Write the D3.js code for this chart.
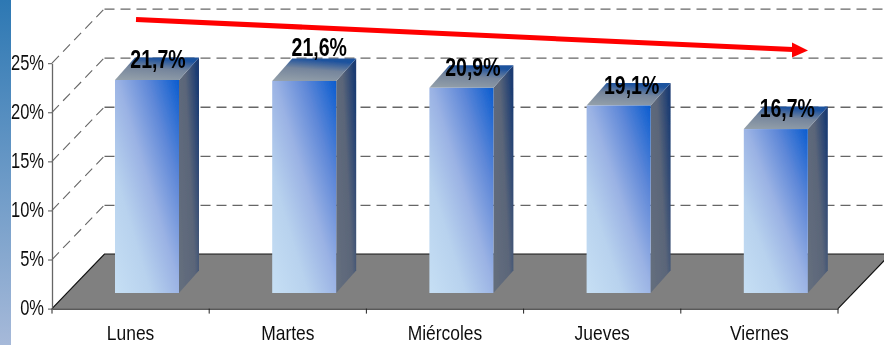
<!DOCTYPE html>
<html><head><meta charset="utf-8">
<script src="https://cdn.jsdelivr.net/npm/d3@7"></script>
<style>html,body{margin:0;padding:0;background:#fff;overflow:hidden}svg{display:block}text{font-family:"Liberation Sans",Arial,sans-serif}</style>
</head><body><svg id="c" width="884" height="345"></svg>
<script>
const days = ["Lunes","Martes","Miércoles","Jueves","Viernes"];
const values = [21.7,21.6,20.9,19.1,16.7];
const valueLabels = ["21,7%","21,6%","20,9%","19,1%","16,7%"];
const yTicks = [0,5,10,15,20,25];

const svg = d3.select("#c");
const defs = svg.append("defs");
function grad(id,x1,y1,x2,y2,stops){
  const g=defs.append("linearGradient").attr("id",id).attr("x1",x1).attr("y1",y1).attr("x2",x2).attr("y2",y2);
  stops.forEach(s=>g.append("stop").attr("offset",s[0]).attr("stop-color",s[1]));
}
grad("strip",0,0,0,1,[[0,"#2d78b3"],[1,"#a6b9d9"]]);
grad("front",0,1,1,0,[[0,"#c6dff4"],[0.28,"#b8d2ee"],[0.52,"#9ab2e4"],[0.75,"#5f88d8"],[1,"#0a5ccf"]]);
grad("side",0,0.8,1,0.2,[[0,"#646e7d"],[0.55,"#5a6579"],[1,"#1a3b72"]]);
grad("top",0,1,0.3,0,[[0,"#96a2ab"],[0.6,"#75859c"],[1,"#1f539e"]]);
const blur = defs.append("filter").attr("id","soft");
blur.append("feGaussianBlur").attr("stdDeviation",0.35);

const x0=52,x1=838,yBase=308.6,yTop=63.2,dx=52.5,dy=-54.6;
const x = d3.scaleBand().domain(days).range([x0,x1]);
const y = d3.scaleLinear().domain([0,25]).range([yBase,yTop]);

svg.append("rect").attr("x",0).attr("y",0).attr("width",11).attr("height",345).attr("fill","url(#strip)");
const root = svg.append("g").attr("filter","url(#soft)");

// floor
root.append("path").attr("d",d3.line()([[x0,yBase],[x0+dx,yBase+dy],[x1+dx,yBase+dy],[x1,yBase]])+"Z")
  .attr("fill","#808080");
root.append("path").attr("d",d3.line()([[x0,yBase],[x0+dx,yBase+dy],[x1+dx,yBase+dy],[x1,yBase]]))
  .attr("fill","none").attr("stroke","#111").attr("stroke-width",1.2);

// gridlines
const grid = yTicks.filter(t=>t>0);
root.append("g").selectAll("line").data(grid).join("line")
  .attr("x1",x0+dx).attr("x2",884).attr("y1",t=>y(t)+dy+.5).attr("y2",t=>y(t)+dy+.5)
  .attr("stroke","#666").attr("stroke-width",1.3).attr("stroke-dasharray","10 6");
root.append("g").selectAll("line").data(grid).join("line")
  .attr("x1",x0).attr("x2",x0+dx).attr("y1",t=>y(t)).attr("y2",t=>y(t)+dy)
  .attr("stroke","#666").attr("stroke-width",1.1).attr("stroke-dasharray","10 6");

// axes
const yAxis = root.append("g").attr("transform",`translate(${x0},0)`)
  .call(d3.axisLeft(y).tickValues(yTicks).tickFormat(d=>d+"%").tickSize(0));
const xAxis = root.append("g").attr("transform",`translate(0,${yBase})`)
  .call(d3.axisBottom(x).tickSize(0).tickFormat(""));
yAxis.select(".domain").attr("stroke","#666").attr("stroke-width",1.3);
xAxis.select(".domain").attr("stroke","#222").attr("stroke-width",1.4);
yAxis.selectAll(".tick line").attr("x2",-4).attr("stroke","#555");
yAxis.selectAll(".tick text").attr("font-size",22).attr("fill","#111")
  .attr("text-anchor","end").attr("x",0).attr("y",0).attr("dy",0)
  .attr("transform","translate(-8,6) scale(.75,1)");
const bounds = d3.range(days.length+1).map(i=>x0+i*x.bandwidth());
root.append("g").selectAll("line").data(bounds).join("line")
  .attr("x1",d=>d).attr("x2",d=>d).attr("y1",yBase).attr("y2",yBase+5).attr("stroke","#222");
root.append("g").selectAll("text").data(days).join("text")
  .attr("transform",d=>`translate(${x(d)+x.bandwidth()/2},340) scale(.85,1)`)
  .attr("text-anchor","middle").attr("font-size",20.5).attr("fill","#111").text(d=>d);

// bars
const barW=64, barOff=63, bdx=20, bdy=-22.5, barBase=293;
const labelLift=[12,25,12,12,12], labelShift=[11,15,11.5,13,11.5];
const h = v=>yBase-y(v);
const bars = root.append("g").selectAll("g").data(days).join("g");
const bx = d=>x(d)+barOff;
const tp = (d,i)=>barBase-h(values[i]);
bars.append("path").attr("fill","url(#side)").attr("d",(d,i)=>{
  const l=bx(d)+barW,t=tp(d,i);
  return d3.line()([[l,t],[l+bdx,t+bdy],[l+bdx,barBase+bdy],[l,barBase]])+"Z";});
bars.append("path").attr("fill","url(#top)").attr("d",(d,i)=>{
  const l=bx(d),t=tp(d,i);
  return d3.line()([[l,t],[l+bdx,t+bdy],[l+barW+bdx,t+bdy],[l+barW,t]])+"Z";});
bars.append("rect").attr("fill","url(#front)").attr("x",bx).attr("y",tp)
  .attr("width",barW).attr("height",(d,i)=>h(values[i]));
bars.append("text")
  .attr("transform",(d,i)=>`translate(${bx(d)+barW/2+labelShift[i]},${tp(d,i)-labelLift[i]}) scale(.78,1)`)
  .attr("text-anchor","middle").attr("font-size",25).attr("font-weight","bold").attr("fill","#000")
  .text((d,i)=>valueLabels[i]);

// trend arrow
root.append("path").attr("d",d3.line()([[136,19.5],[793,49.5]])).attr("stroke","#f00").attr("stroke-width",5).attr("fill","none");
root.append("path").attr("d",d3.line()([[792,42.5],[808,50.5],[792,57.5]])+"Z").attr("fill","#f00");
</script></body></html>
